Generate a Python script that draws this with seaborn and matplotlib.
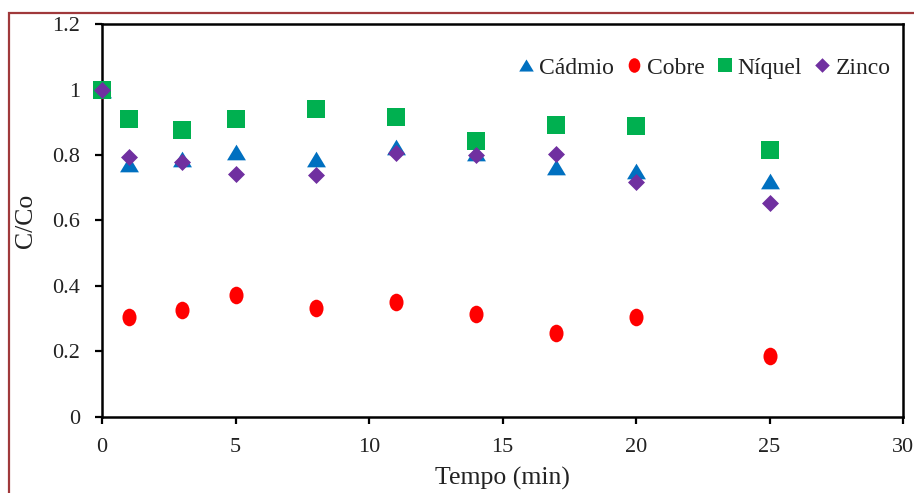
import numpy as np
import pandas as pd
import matplotlib
matplotlib.use("Agg")
import matplotlib.pyplot as plt
from matplotlib.path import Path
from matplotlib.patches import Rectangle
from matplotlib.lines import Line2D
from matplotlib.transforms import Affine2D
import seaborn as sns

# Sampling times (min)
tempo = [0, 1, 3, 5, 8, 11, 14, 17, 20, 25]

# Relative concentration C/Co for each metal
cadmio = [1.0, 0.773, 0.788, 0.810, 0.789, 0.824, 0.805, 0.762, 0.751, 0.720]
cobre  = [1.0, 0.306, 0.327, 0.373, 0.334, 0.352, 0.313, 0.255, 0.305, 0.187]
niquel = [1.0, 0.909, 0.876, 0.909, 0.941, 0.917, 0.844, 0.891, 0.889, 0.815]
zinco  = [1.0, 0.793, 0.780, 0.742, 0.738, 0.807, 0.800, 0.803, 0.718, 0.652]

series_names = ["Cádmio", "Cobre", "Níquel", "Zinco"]
x_ticks = [0, 5, 10, 15, 20, 25, 30]
y_ticks = [0, 0.2, 0.4, 0.6, 0.8, 1.0, 1.2]
y_tick_labels = ["0", "0.2", "0.4", "0.6", "0.8", "1", "1.2"]

# Marker shapes
tri = Path([(-1, -0.83), (1, -0.83), (0, 0.83), (-1, -0.83)],
           [Path.MOVETO, Path.LINETO, Path.LINETO, Path.CLOSEPOLY])
ellipse = Affine2D().scale(0.8, 1.0).transform_path(Path.unit_circle())
square = Path([(-1, -0.96), (1, -0.96), (1, 0.96), (-1, 0.96), (-1, -0.96)],
              [Path.MOVETO, Path.LINETO, Path.LINETO, Path.LINETO, Path.CLOSEPOLY])
diamond = Path([(0, -1), (1, 0), (0, 1), (-1, 0), (0, -1)],
               [Path.MOVETO, Path.LINETO, Path.LINETO, Path.LINETO, Path.CLOSEPOLY])

styles = {
    "Cádmio": dict(color="#0070C0", marker=tri, s=185),
    "Cobre":  dict(color="#FF0000", marker=ellipse, s=160),
    "Níquel": dict(color="#00B050", marker=square, s=180),
    "Zinco":  dict(color="#7030A0", marker=diamond, s=150),
}

df = pd.DataFrame({"Tempo": tempo, "Cádmio": cadmio, "Cobre": cobre,
                   "Níquel": niquel, "Zinco": zinco})
long = df.melt(id_vars="Tempo", var_name="Metal", value_name="C/Co")

sns.set_theme(style="white")
plt.rcParams["font.family"] = ["Liberation Serif", "DejaVu Serif"]

fig = plt.figure(figsize=(9.14, 4.93), dpi=100)
ax = fig.add_axes([0.1116, 0.1542, 0.8764, 0.7971])

for name in series_names:
    st = styles[name]
    sub = long[long["Metal"] == name]
    sns.scatterplot(data=sub, x="Tempo", y="C/Co", ax=ax, color=st["color"],
                    marker=st["marker"], s=st["s"], linewidth=0, zorder=3,
                    clip_on=False, legend=False)

ax.set_xlim(0, 30)
ax.set_ylim(0, 1.2)
ax.set_xticks(x_ticks)
ax.set_xticklabels([str(t) for t in x_ticks])
ax.set_yticks(y_ticks)
ax.set_yticklabels(y_tick_labels)

for sp in ax.spines.values():
    sp.set_visible(True)
    sp.set_color("black")
    sp.set_linewidth(1.8)

ax.tick_params(axis="both", which="major", direction="out", length=5,
               width=1.6, color="black", labelsize=16, labelcolor="#222222",
               bottom=True, left=True, top=False, right=False)
ax.tick_params(axis="y", pad=11)
ax.tick_params(axis="x", pad=10)

ax.set_xlabel("Tempo (min)", fontsize=18.5, color="#222222")
ax.set_ylabel("C/Co", fontsize=18.5, color="#222222")
ax.xaxis.set_label_coords(0.5, -0.128)
ax.yaxis.set_label_coords(-0.081, 0.5)

handles = [Line2D([], [], linestyle="none", marker=styles[n]["marker"],
                  color=styles[n]["color"], markersize=10.5, markeredgewidth=0)
           for n in series_names]
ax.legend(handles, series_names, ncol=4, frameon=False, loc="upper right",
          bbox_to_anchor=(0.996, 0.94), fontsize=17, handlelength=0.8,
          handletextpad=0.15, columnspacing=0.45, borderaxespad=0,
          labelcolor="#222222")

# Outer frame of the figure
fig.patches.append(Rectangle((9 / 914, -0.2), 1.2, 1 - 13 / 493 + 0.2,
                             transform=fig.transFigure, fill=False,
                             edgecolor="#A0393B", linewidth=1.6, zorder=10))

fig.savefig("out.png", dpi=100)
